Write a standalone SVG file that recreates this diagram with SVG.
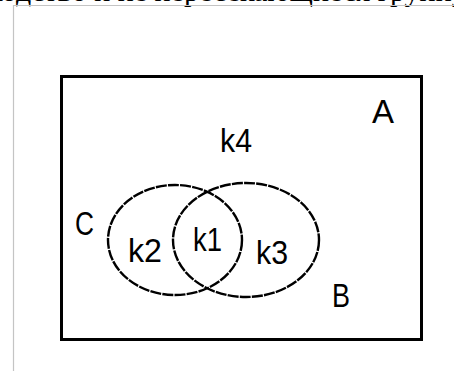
<svg xmlns="http://www.w3.org/2000/svg" width="454" height="371" viewBox="0 0 454 371">
<style>
.lbl{font-family:"Liberation Sans",Arial,sans-serif;font-size:34px;fill:#000}
.ell{fill:none;stroke:#000;stroke-width:2.4;stroke-dasharray:11 1.2}
</style>
<rect width="454" height="371" fill="#fff"/>
<text x="-12" y="1" font-family="Liberation Serif,serif" font-size="30" fill="#000">ходство и не пересекающиеся группу</text>
<path d="M13.5 371V5.5H454" fill="none" stroke="#c4c4c4" stroke-width="1.2"/>
<g id="A">
<rect x="61.5" y="76.5" width="360" height="263" fill="none" stroke="#000" stroke-width="3"/>
<text class="lbl" x="372" y="123" textLength="22" lengthAdjust="spacingAndGlyphs">A</text>
</g>
<g id="k4"><text class="lbl" x="220" y="152" textLength="32" lengthAdjust="spacingAndGlyphs">k4</text></g>
<g id="C">
<ellipse class="ell" cx="175" cy="240" rx="67" ry="55"/>
<text class="lbl" x="75" y="235" textLength="19" lengthAdjust="spacingAndGlyphs">C</text>
</g>
<g id="B">
<ellipse class="ell" cx="246" cy="240" rx="73" ry="57"/>
<text class="lbl" x="332" y="307" textLength="18" lengthAdjust="spacingAndGlyphs">B</text>
</g>
<g id="k2"><text class="lbl" x="128" y="262" textLength="34" lengthAdjust="spacingAndGlyphs">k2</text></g>
<g id="k1"><text class="lbl" x="193" y="251" textLength="29" lengthAdjust="spacingAndGlyphs">k1</text></g>
<g id="k3"><text class="lbl" x="256" y="264" textLength="32" lengthAdjust="spacingAndGlyphs">k3</text></g>
</svg>
